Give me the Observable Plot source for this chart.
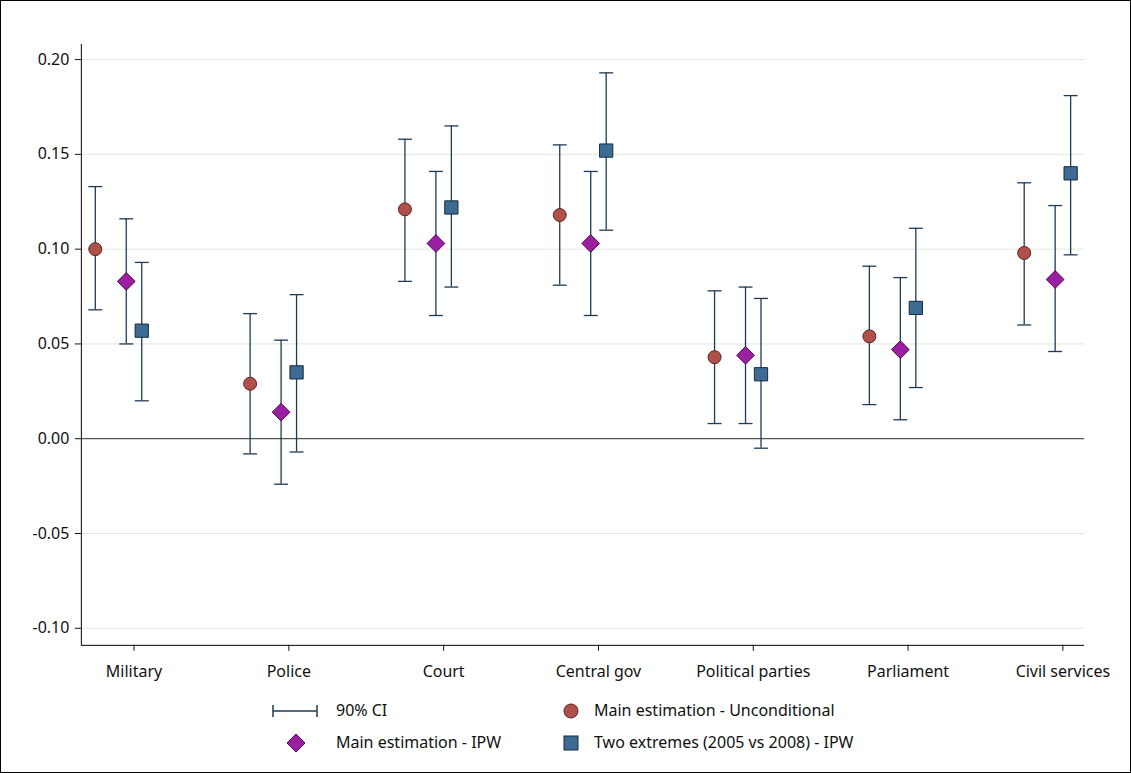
<!DOCTYPE html>
<html><head><meta charset="utf-8">
<script src="https://cdn.jsdelivr.net/npm/d3@7"></script>
<script src="https://cdn.jsdelivr.net/npm/@observablehq/plot@0.6"></script>
<style>
body{margin:0;background:#fff;font-family:"Noto Sans",sans-serif;}
#wrap{position:relative;width:1129px;height:771px;border:1px solid #000;overflow:hidden;}
#chart{position:absolute;left:0;top:0;}
.lg{position:absolute;font-size:16px;color:#111;line-height:20px;}
</style></head><body>
<div id="wrap"><div id="chart"></div>
<svg class="lg" style="left:268px;top:700px" width="60" height="20"><line x1="4" x2="48" y1="10" y2="10" stroke="#1f3a55" stroke-width="1.5"/><line x1="4" x2="4" y1="4" y2="16" stroke="#1f3a55" stroke-width="1.5"/><line x1="48" x2="48" y1="4" y2="16" stroke="#1f3a55" stroke-width="1.5"/></svg>
<div class="lg" style="left:335px;top:699px">90% CI</div>
<svg class="lg" style="left:560px;top:700px" width="20" height="20"><circle cx="10" cy="10" r="7" fill="#b0504a" stroke="#5a2320" stroke-width="1"/></svg>
<div class="lg" style="left:593px;top:699px">Main estimation - Unconditional</div>
<svg class="lg" style="left:284px;top:731px" width="22" height="22"><path d="M11 2 L20 11 L11 20 L2 11 Z" fill="#9b1fa0" stroke="#4a0a4d" stroke-width="1"/></svg>
<div class="lg" style="left:335px;top:731px">Main estimation - IPW</div>
<svg class="lg" style="left:560px;top:732px" width="20" height="20"><rect x="3" y="3" width="14" height="14" fill="#3d6b94" stroke="#172a3d" stroke-width="1"/></svg>
<div class="lg" style="left:593px;top:731px">Two extremes (2005 vs 2008) - IPW</div>
</div>
<script>
const categories=["Military","Police","Court","Central gov","Political parties","Parliament","Civil services"];
const unconditional=[0.100,0.029,0.121,0.118,0.043,0.054,0.098];
const unconditionalLo=[0.068,-0.008,0.083,0.081,0.008,0.018,0.060];
const unconditionalHi=[0.133,0.066,0.158,0.155,0.078,0.091,0.135];
const ipw=[0.083,0.014,0.103,0.103,0.044,0.047,0.084];
const ipwLo=[0.050,-0.024,0.065,0.065,0.008,0.010,0.046];
const ipwHi=[0.116,0.052,0.141,0.141,0.080,0.085,0.123];
const extremes=[0.057,0.035,0.122,0.152,0.034,0.069,0.140];
const extremesLo=[0.020,-0.007,0.080,0.110,-0.005,0.027,0.097];
const extremesHi=[0.093,0.076,0.165,0.193,0.074,0.111,0.181];
const yTicks=[-0.10,-0.05,0,0.05,0.10,0.15,0.20];
const series=[
 {name:"u",off:-0.25,v:unconditional,lo:unconditionalLo,hi:unconditionalHi,symbol:"circle",fill:"#b0504a",stroke:"#5a2320",r:6.5},
 {name:"i",off:-0.05,v:ipw,lo:ipwLo,hi:ipwHi,symbol:"diamond2",fill:"#9b1fa0",stroke:"#4a0a4d",r:8},
 {name:"e",off:0.05,v:extremes,lo:extremesLo,hi:extremesHi,symbol:"square",fill:"#3d6b94",stroke:"#172a3d",r:7.5}
];
const rows=series.flatMap(s=>categories.map((c,i)=>({s:s.name,x:i+s.off,v:s.v[i],lo:s.lo[i],hi:s.hi[i]})));
const cap=0.045;
const marks=[
 Plot.ruleY(yTicks.filter(d=>d!==0),{stroke:"#e3e3e3"}),
 Plot.ruleY([0],{stroke:"#555",strokeWidth:1.2}),
 Plot.ruleX(rows,{x:"x",y1:"lo",y2:"hi",stroke:"#1f3a55",strokeWidth:1.3}),
 Plot.link(rows,{x1:d=>d.x-cap,x2:d=>d.x+cap,y1:"lo",y2:"lo",stroke:"#1f3a55",strokeWidth:1.3}),
 Plot.link(rows,{x1:d=>d.x-cap,x2:d=>d.x+cap,y1:"hi",y2:"hi",stroke:"#1f3a55",strokeWidth:1.3}),
 ...series.map(s=>Plot.dot(rows.filter(d=>d.s===s.name),{x:"x",y:"v",symbol:()=>s.symbol,r:s.r,fill:s.fill,stroke:s.stroke,strokeWidth:1})),
 Plot.axisY({ticks:yTicks,tickFormat:d=>d.toFixed(2),fontSize:16,tickSize:6,tickPadding:6}),
 Plot.axisX({ticks:d3.range(7),tickFormat:i=>categories[i],fontSize:16,tickSize:6,tickPadding:14}),
 Plot.ruleX([-0.34],{stroke:"#000"}),
 Plot.ruleY([-0.109],{stroke:"#000"})
];
const p=Plot.plot({width:1131,height:690,marginLeft:80,marginRight:46,marginTop:43,marginBottom:45,
 style:{fontFamily:"Noto Sans",fontSize:"15px",color:"#111"},
 x:{domain:[-0.34,6.14],label:null},
 y:{domain:[-0.109,0.208],label:null},
 symbol:{type:"identity"},
 marks});
document.getElementById("chart").appendChild(p);
</script></body></html>
